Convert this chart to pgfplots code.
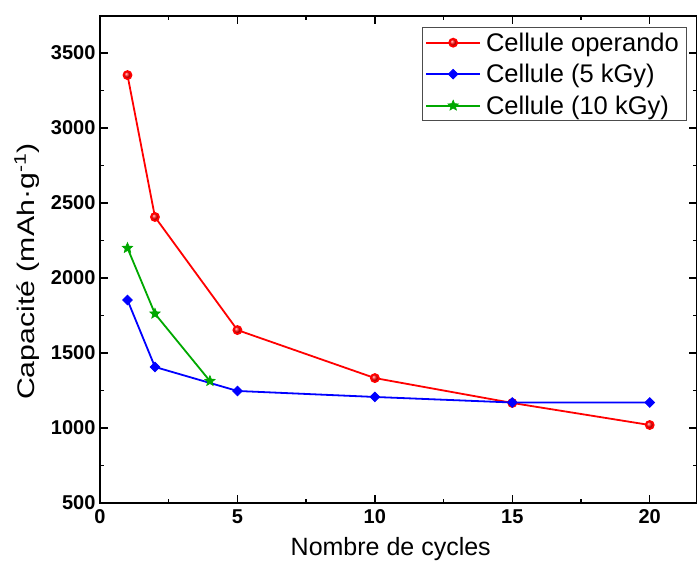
\documentclass[border=0pt]{standalone}
\usepackage{pgfplots}
\pgfplotsset{compat=1.18}
\usepackage{fontspec}
\setmainfont{Liberation Sans}
\definecolor{cgreen}{rgb}{0,0.66,0}
\pgfdeclareplotmark{fstar}{%
  \pgfpathmoveto{\pgfpointpolar{90}{\pgfplotmarksize}}%
  \pgfpathlineto{\pgfpointpolar{126}{0.45\pgfplotmarksize}}%
  \pgfpathlineto{\pgfpointpolar{162}{\pgfplotmarksize}}%
  \pgfpathlineto{\pgfpointpolar{198}{0.45\pgfplotmarksize}}%
  \pgfpathlineto{\pgfpointpolar{234}{\pgfplotmarksize}}%
  \pgfpathlineto{\pgfpointpolar{270}{0.45\pgfplotmarksize}}%
  \pgfpathlineto{\pgfpointpolar{306}{\pgfplotmarksize}}%
  \pgfpathlineto{\pgfpointpolar{342}{0.45\pgfplotmarksize}}%
  \pgfpathlineto{\pgfpointpolar{18}{\pgfplotmarksize}}%
  \pgfpathlineto{\pgfpointpolar{54}{0.45\pgfplotmarksize}}%
  \pgfpathclose\pgfusepathqfillstroke}
\begin{document}
\begin{tikzpicture}
\begin{axis}[
  scale only axis,
  width=597pt, height=487pt,
  anchor=south west, at={(0,0)},
  xmin=0, xmax=21.72, ymin=500, ymax=3747,
  xtick={0,5,10,15,20}, ytick={500,1000,...,3500},
  minor x tick num=1, minor y tick num=1,
  tick align=inside,
  major tick length=8pt, minor tick length=4.5pt,
  axis line style={line width=1.8pt},
  every tick/.style={black, line width=1.5pt},
  /pgf/number format/assume math mode=true,
  /pgf/number format/1000 sep={},
  ticklabel style={font=\fontsize{20}{23}\selectfont\bfseries},
  xticklabel style={yshift=-3pt},
  yticklabel style={xshift=-1pt},
  xlabel={Nombre de cycles},
  ylabel={\scalebox{1.26}[1]{Capacité (mAh·g\textsuperscript{-1})}},
  xlabel style={font=\fontsize{25}{28}\selectfont, at={(axis description cs:0.487,-0.094)}, anchor=center},
  ylabel style={font=\fontsize{24}{27}\selectfont, at={(axis description cs:-0.122,0.475)}, anchor=center},
  legend style={at={(axis description cs:0.539,0.977)}, anchor=north west,
    font=\fontsize{25.5}{28}\selectfont, draw=black!70, line width=1pt,
    row sep=7.5pt, inner sep=3pt, nodes={inner xsep=5pt, inner ysep=2pt}},
  legend cell align=left,
  legend image code/.code={\draw[mark repeat=2,mark phase=2] plot coordinates {(0pt,0pt) (27pt,0pt) (54pt,0pt)};},
]
\addplot[red, line width=1.8pt, mark=ball, mark size=4pt, mark options={ball color=red}] coordinates {
(1,3353) (2,2407) (5,1653) (10,1333) (15,1167) (20,1020)};
\addplot[blue, line width=1.8pt, mark=square*, mark size=3.4pt, mark options={fill=blue, rotate=45, line width=0.8pt}] coordinates {
(1,1853) (2,1407) (5,1247) (10,1207) (15,1170) (20,1170)};
\addplot[cgreen, line width=1.8pt, mark=fstar, mark size=5.5pt, mark options={fill=cgreen, line width=0.6pt}] coordinates {
(1,2200) (2,1762) (4,1313)};
\legend{Cellule operando, Cellule (5 kGy), Cellule (10 kGy)}
\end{axis}
\pgfresetboundingbox
\path (-100pt,-60pt) rectangle (597pt,503pt);
\end{tikzpicture}
\end{document}
